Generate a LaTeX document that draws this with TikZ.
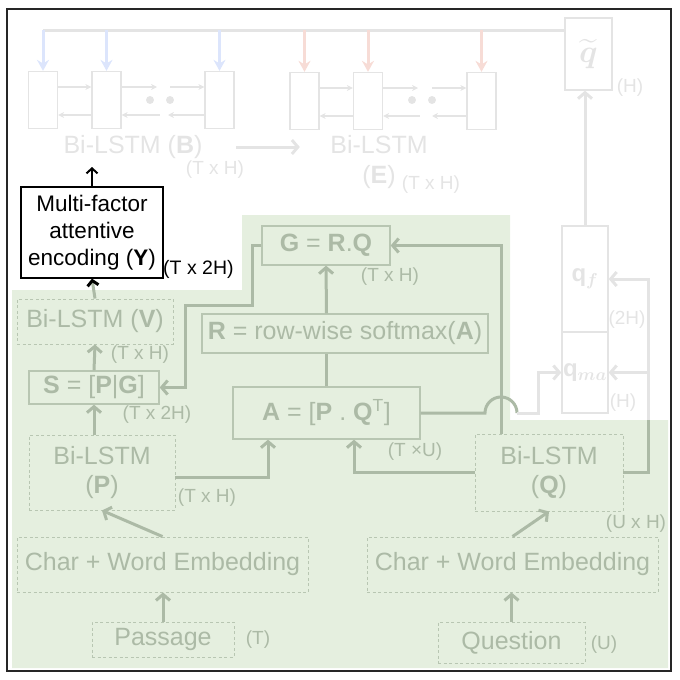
\documentclass[tikz,border=0pt]{standalone}
\usepackage{amsmath}
\usepackage{fontspec}
\setmainfont{Liberation Sans}
\usetikzlibrary{arrows.meta}

\definecolor{gbg}{RGB}{229,239,223}
\definecolor{gfg}{RGB}{172,186,166}
\definecolor{gbd}{RGB}{184,198,178}
\definecolor{wfg}{RGB}{228,228,228}
\definecolor{bblue}{RGB}{220,229,252}
\definecolor{bred}{RGB}{247,220,214}

\tikzset{
	big/.style={font=\fontsize{25}{29}\selectfont},
	small/.style={font=\fontsize{19}{21}\selectfont, inner sep=0pt},
	gbox/.style={big, draw=gbd, line width=1.3pt, text=gfg, inner sep=0pt},
	dbox/.style={gbox, line width=0.9pt, dash pattern=on 3pt off 2.5pt},
	wbox/.style={draw=wfg, line width=1.3pt, text=wfg, inner sep=0pt},
	cell/.style={wbox, minimum width=29pt, minimum height=57pt},
	glbl/.style={small, text=gfg},
	wlbl/.style={small, text=wfg},
	gline/.style={draw=gfg, line width=3pt},
	garrow/.style={gline, -{Straight Barb[length=6pt,width=14pt]}},
	wline/.style={draw=wfg, line width=3pt},
	warrow/.style={wline, -{Straight Barb[length=6pt,width=14pt]}},
	carrow/.style={draw=wfg, line width=1.3pt, -{Stealth[length=6pt,width=6pt]}},
	busarrow/.style={line width=3pt, -{Stealth[length=11pt,width=12pt]}}
}

\begin{document}
\begin{tikzpicture}[x=1pt,y=-1pt]
	\useasboundingbox (0,0) rectangle (680,680);
	\fill[gbg] (12,290) -- (242,290) -- (242,215) -- (510,215) -- (510,420) -- (668,420) -- (668,668) -- (12,668) -- cycle;
	\draw[black!85, line width=1.3pt] (7,9) rectangle (671,671);

	\node[cell] (b1) at (43,100) {};
	\node[cell] (b2) at (106.5,100) {};
	\node[cell] (b3) at (219.5,100) {};
	\node[cell] (e1) at (304.5,101) {};
	\node[cell] (e2) at (368,101) {};
	\node[cell] (e3) at (481.5,101) {};
	\node[wbox, minimum width=47pt, minimum height=72pt, font=\fontsize{10}{10}\selectfont] (qt) at (588.5,54) {\scalebox{3.2}{$\widetilde{\boldsymbol q}$}};
	\node[wlbl] (qth) at (630,88) {(H)};

	\draw[wline] (b1.north |- 0,30) -- (qt.west |- 0,30);
	\foreach \c in {b1,b2,b3} \draw[busarrow, bblue] (\c.north |- 0,30) -- (\c.north);
	\foreach \c in {e1,e2,e3} \draw[busarrow, bred] (\c.north |- 0,30) -- (\c.north);

	\coordinate (bf1) at (157,87);
	\coordinate (bf2) at (170,87);
	\coordinate (bk1) at (160,115);
	\coordinate (bk2) at (168,115);
	\coordinate (ef1) at (418,88);
	\coordinate (ef2) at (432,88);
	\coordinate (ek1) at (420,116);
	\coordinate (ek2) at (432,116);
	\draw[carrow] ([yshift=13pt]b1.east) -- ([yshift=13pt]b2.west);
	\draw[carrow] ([yshift=13pt]b2.east) -- (bf1);
	\draw[carrow] (bf2) -- (bf2 -| b3.west);
	\draw[carrow] ([yshift=-15pt]b2.west) -- ([yshift=-15pt]b1.east);
	\draw[carrow] (bk1) -- (bk1 -| b2.east);
	\draw[carrow] (bk2 -| b3.west) -- (bk2);
	\draw[carrow] ([yshift=13pt]e1.east) -- ([yshift=13pt]e2.west);
	\draw[carrow] ([yshift=13pt]e2.east) -- (ef1);
	\draw[carrow] (ef2) -- (ef2 -| e3.west);
	\draw[carrow] ([yshift=-15pt]e2.west) -- ([yshift=-15pt]e1.east);
	\draw[carrow] (ek1) -- (ek1 -| e2.east);
	\draw[carrow] (ek2 -| e3.west) -- (ek2);
	\foreach \x in {150,170,412,432} \fill[wfg] (\x,100) circle (4pt);

	\node[big, text=wfg] (bl) at (133,147) {Bi-LSTM (\textbf{B})};
	\node[wlbl] (blh) at (215,170) {(T x H)};
	\node[big, text=wfg] (el) at (379,145) {Bi-LSTM};
	\node[big, text=wfg] (elb) at (379,177) {(\textbf{E})};
	\node[wlbl] (elh) at (431,185) {(T x H)};
	\draw[warrow, shorten <=30pt, shorten >=27pt] (bl.east) -- (bl.east -| el.west);

	\node[wbox, minimum width=46pt, minimum height=106pt, font=\fontsize{24}{24}\selectfont] (qf) at (585,279) {$\mathbf{q}_{\boldsymbol f}$};
	\node[wbox, minimum width=46pt, minimum height=81pt, font=\fontsize{24}{24}\selectfont] (qma) at (585,372.5) {$\mathbf{q}_{\boldsymbol{ma}}$};
	\node[wlbl] (qfh) at (627,320) {(2H)};
	\node[wlbl] (qmah) at (623,403) {(H)};
	\draw[warrow] (qf.north) -- (qf.north |- qt.south);

	\node[draw=black, line width=1.2pt, align=center, minimum width=142pt, minimum height=91pt, inner sep=0pt, font=\fontsize{22.5}{27}\selectfont] (y) at (92,232.5) {Multi-factor\\attentive\\encoding (\textbf{Y})};
	\node[small, anchor=west, font=\fontsize{19.5}{21}\selectfont] (yh) at (163,269) {(T x 2H)};
	\coordinate (ytop) at (92,167);
	\draw[line width=2pt, -{Straight Barb[length=5pt,width=11pt]}] (y.north) -- (ytop);

	\node[dbox, minimum width=156pt, minimum height=45pt] (v) at (95,321.5) {Bi-LSTM (\textbf{V})};
	\node[glbl] (vh) at (140,355) {(T x H)};
	\node[gbox, minimum width=130pt, minimum height=33pt] (s) at (94,387.5) {\textbf{S} = [\textbf{P}|\textbf{G}]};
	\node[glbl] (sh) at (157,415) {(T x 2H)};
	\node[dbox, align=center, minimum width=146pt, minimum height=75pt] (p) at (102,472.5) {Bi-LSTM\\(\textbf{P})};
	\node[glbl] (ph) at (207,498) {(T x H)};
	\node[dbox, minimum width=291pt, minimum height=55pt] (pe) at (162.5,564.5) {Char + Word Embedding};
	\node[dbox, minimum width=142pt, minimum height=35pt] (pass) at (163,639.5) {Passage};
	\node[glbl] (passh) at (258,640) {(T)};

	\node[gbox, minimum width=128pt, minimum height=39pt] (g) at (326,245.5) {\textbf{G} = \textbf{R}.\textbf{Q}};
	\node[glbl] (gh) at (390,277) {(T x H)};
	\node[gbox, minimum width=286pt, minimum height=39pt] (r) at (345,333.5) {\textbf{R} = row-wise softmax(\textbf{A})};
	\node[gbox, minimum width=187pt, minimum height=52pt] (a) at (326.5,413) {\textbf{A} = [\textbf{P} . \textbf{Q}\textsuperscript{T}]};
	\node[glbl] (ah) at (415,452) {(T ×U)};
	\node[dbox, align=center, minimum width=148pt, minimum height=77pt] (q) at (549,472.5) {Bi-LSTM\\(\textbf{Q})};
	\node[glbl] (qh) at (636,524) {(U x H)};
	\node[dbox, minimum width=291pt, minimum height=55pt] (qe) at (512.5,564.5) {Char + Word Embedding};
	\node[dbox, minimum width=147pt, minimum height=41pt] (ques) at (511.5,642.5) {Question};
	\node[glbl] (quesh) at (604,645) {(U)};

	\draw[garrow] (pass.north) -- (pass.north |- pe.south);
	\draw[garrow] (ques.north) -- (ques.north |- qe.south);
	\draw[garrow] (pe.north) -- (p.south);
	\draw[garrow] (qe.north) -- (q.south);
	\draw[garrow] (s.south |- p.north) -- (s.south);
	\draw[garrow] (s.north) -- (v.south);
	\draw[gline, -{Straight Barb[black,length=5pt,width=11pt]}] (v.north) -- (y.south);
	\draw[garrow] ([yshift=-4.5pt]p.east) -| ([xshift=-58.5pt]a.south);
	\draw[garrow] (q.west) -| ([xshift=27.5pt]a.south);
	\draw[gline] (a.north) -- (a.north |- r.south);
	\draw[garrow] (a.north |- r.north) -- (g.south);
	\draw[garrow] ([xshift=-48pt]q.north) |- (g.east);
	\draw[garrow] (g.west) -- ++(-9,0) |- (185,305) |- (s.east);

	\coordinate (hop) at (501,413);
	\draw[gline] (a.east) -- ([xshift=-16pt]hop) arc[start angle=180, end angle=0, radius=16pt];
	\draw[warrow] ([xshift=16pt]hop) -- ++(21,0) |- (qma.west);
	\coordinate (qc) at (648,420);
	\draw[gline] (q.east) -| (qc);
	\draw[warrow] (qc) |- (qf.east);
	\draw[warrow] (qma.east -| qc) -- (qma.east);
\end{tikzpicture}
\end{document}
